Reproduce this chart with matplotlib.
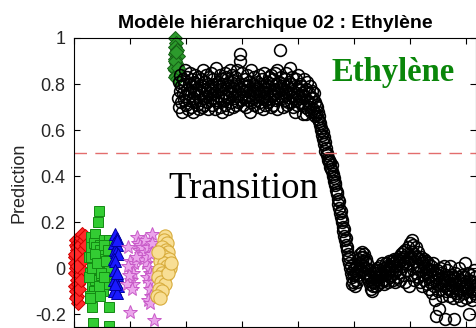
import numpy as np
import matplotlib
matplotlib.use("Agg")
import matplotlib.pyplot as plt

plt.rcParams['font.family'] = ['Liberation Sans', 'DejaVu Sans']

# class clusters (sample position, prediction)
red_x = [1, 3, 2, 5, 4, 7, 2, 6, 9, 3, 8, 5, 11, 4, 10, 6, 13, 2, 8, 12, 15, 7, 3, 10, 14,
         5, 9, 16, 1, 12, 18, 20, 17, 21]
red_y = [0.05, 0.10, -0.02, 0.08, 0.12, 0.03, -0.08, -0.05, 0.07, 0.00, 0.11, -0.12, 0.04,
         -0.10, -0.03, 0.09, 0.13, 0.02, -0.15, 0.06, 0.15, -0.07, -0.13, 0.10, -0.01, 0.01,
         -0.09, 0.08, 0.06, -0.05, 0.12, 0.14, 0.04, 0.10]

green_x = [44, 43, 30, 38, 32, 62, 34, 62,
           26, 28, 30, 32, 34, 36, 38, 40, 42, 44, 46, 48, 50, 52, 54, 56, 58, 60, 62,
           64, 27, 31, 35, 39, 43, 47, 51, 55, 59, 63, 29, 37, 45, 53, 61, 33, 41, 49,
           57, 28, 46, 54]
green_y = [0.25, 0.20, 0.135, 0.15, -0.17, -0.17, -0.24, -0.25,
           0.05, -0.02, 0.09, -0.08, 0.03, 0.11, -0.05, 0.07, -0.11, 0.01, 0.10, -0.03,
           0.06, -0.09, 0.12, 0.02, -0.06, 0.08, -0.01, 0.11, -0.04, 0.05, -0.10, 0.09,
           0.00, 0.08, -0.10, 0.04, -0.07, 0.12, -0.12, 0.06, -0.08, 0.10, 0.08, 0.00,
           0.02, -0.02, 0.03, -0.13, -0.12, -0.04]

blue_x = [74, 77, 72, 76, 73, 75, 78, 72, 74, 77, 73, 76, 72, 75, 78, 74, 72, 77, 73, 76]
blue_y = [0.15, 0.13, 0.11, 0.10, 0.08, 0.07, 0.06, 0.04, 0.03, 0.12, -0.01, -0.03, -0.05,
          -0.06, -0.08, -0.09, -0.10, -0.11, -0.07, -0.02]

mag_x = [97, 139, 112, 114, 116, 118, 120, 122, 124, 126, 128, 130, 132, 134, 136, 130, 134,
         136, 138, 132, 136, 140, 100, 103, 106, 102, 108, 105, 94, 98, 110, 100, 143, 126,
         138, 140, 96, 104]
mag_y = [0.09, 0.15, 0.135, 0.11, 0.08, 0.10, 0.06, 0.09, 0.04, 0.07, 0.02, 0.05, 0.09, 0.00,
         -0.02, -0.04, -0.06, -0.09, -0.12, -0.14, -0.15, -0.03, 0.03, 0.00, -0.02, -0.05,
         0.02, -0.07, -0.07, -0.03, 0.05, -0.19, -0.225, 0.12, 0.06, 0.11, 0.01, -0.09]

yel_x = [162, 160, 166, 158, 164, 168, 156, 162, 170, 154, 160, 166, 172, 152, 158, 164, 150,
         156, 162, 152, 158, 148, 154, 168, 150, 174]
yel_y = [0.14, 0.12, 0.11, 0.09, 0.08, 0.07, 0.06, 0.05, 0.04, 0.03, 0.02, 0.01, 0.00, -0.01,
         -0.02, -0.03, -0.04, -0.06, -0.07, -0.09, -0.10, -0.12, -0.13, -0.02, 0.07, 0.02]

eth_x = [181, 183, 180, 184, 181, 185, 180, 183, 184, 181, 179, 185, 183, 180, 184, 181, 186, 183]
eth_y = [1.00, 0.98, 0.96, 0.95, 0.93, 0.92, 0.91, 0.89, 0.88, 0.86, 0.87, 0.85, 0.84, 0.83,
         0.82, 0.90, 0.87, 0.94]

# hierarchical model output, one value per sample
first_sample = 186
plateau_y = [
    0.74, 0.81, 0.70, 0.77, 0.84, 0.72, 0.79, 0.68, 0.76, 0.82, 0.73, 0.80, 0.75, 0.86, 0.71, 0.78, 0.83, 0.69, 0.76, 0.80,
    0.73, 0.85, 0.77, 0.70, 0.79, 0.82, 0.74, 0.68, 0.81, 0.76, 0.72, 0.84, 0.78, 0.71, 0.80, 0.75, 0.83, 0.69, 0.77, 0.73,
    0.82, 0.76, 0.70, 0.79, 0.86, 0.74, 0.78, 0.71, 0.81, 0.75, 0.84, 0.72, 0.77, 0.80, 0.69, 0.83, 0.76, 0.73, 0.79, 0.85,
    0.71, 0.78, 0.74, 0.82, 0.76, 0.69, 0.80, 0.73, 0.87, 0.77, 0.72, 0.81, 0.75, 0.79, 0.70, 0.84, 0.78, 0.74, 0.82, 0.68,
    0.76, 0.80, 0.73, 0.85, 0.71, 0.78, 0.83, 0.75, 0.82, 0.69, 0.79, 0.74, 0.86, 0.77, 0.72, 0.81, 0.76, 0.84, 0.70, 0.78,
    0.74, 0.83, 0.77, 0.71, 0.80, 0.75, 0.86, 0.72, 0.79, 0.76, 0.93, 0.90, 0.78, 0.73, 0.85, 0.77, 0.71, 0.80, 0.74, 0.79,
    0.82, 0.70, 0.77, 0.84, 0.73, 0.79, 0.75, 0.81, 0.68, 0.78, 0.86, 0.72, 0.76, 0.80, 0.74, 0.83, 0.71, 0.77, 0.79, 0.75,
    0.81, 0.73, 0.78, 0.70, 0.84, 0.76, 0.72, 0.80, 0.77, 0.74, 0.82, 0.69, 0.79, 0.75, 0.85, 0.71, 0.78, 0.73, 0.81, 0.76,
    0.72, 0.79, 0.83, 0.74, 0.77, 0.70, 0.84, 0.80, 0.75, 0.82, 0.71, 0.78, 0.76, 0.85, 0.73, 0.80, 0.86, 0.69, 0.77, 0.74,
    0.81, 0.76, 0.95, 0.79, 0.83, 0.74, 0.78, 0.70, 0.80, 0.75, 0.82, 0.73, 0.77, 0.85, 0.71, 0.79, 0.76, 0.72, 0.81, 0.87,
    0.78, 0.72, 0.80, 0.75, 0.83, 0.70, 0.77, 0.74, 0.68, 0.79, 0.82, 0.73, 0.76, 0.71, 0.84, 0.75, 0.78, 0.72, 0.80, 0.74,
    0.79, 0.71, 0.76, 0.67, 0.82, 0.75, 0.70, 0.77, 0.67, 0.78, 0.73, 0.81, 0.69, 0.76, 0.72, 0.79, 0.70, 0.74, 0.68, 0.77,
]
trans_y = [
    0.74, 0.69, 0.76, 0.68, 0.72, 0.66, 0.71, 0.67, 0.70, 0.65,
    0.68, 0.64, 0.66, 0.62, 0.63, 0.60, 0.61, 0.58, 0.59, 0.56,
    0.57, 0.54, 0.55, 0.51, 0.52, 0.49, 0.50, 0.47, 0.48, 0.46,
    0.47, 0.44, 0.46, 0.43, 0.45, 0.42, 0.40, 0.41, 0.38, 0.39,
    0.36, 0.37, 0.34, 0.32, 0.33, 0.30, 0.28, 0.29, 0.26, 0.24,
    0.25, 0.22, 0.20, 0.21, 0.18, 0.16, 0.17, 0.14, 0.12, 0.13,
    0.10, 0.08, 0.09, 0.06, 0.04, 0.05, 0.02, 0.00, 0.01, -0.02,
]
tail_y = [
    -0.04, -0.07, -0.01, -0.06, -0.03, -0.08, 0.00, -0.05, -0.02, -0.06,
    0.01, -0.03, 0.04, 0.00, 0.06, 0.02, 0.05, -0.01, 0.07, 0.03,
    0.05, 0.01, 0.06, -0.02, 0.03, 0.00, 0.04, -0.04, 0.02, -0.03,
    -0.05, -0.01, -0.07, -0.03, -0.09, -0.04, -0.10, -0.06, -0.08, -0.02,
    -0.06, -0.01, -0.04, -0.08, -0.02, -0.05, 0.00, -0.07, -0.03, -0.01,
    0.01, -0.04, -0.02, -0.06, 0.02, -0.03, -0.05, 0.00, -0.07, -0.01,
    -0.03, 0.02, -0.05, 0.01, -0.02, -0.06, 0.03, -0.01, -0.04, 0.01,
    0.00, -0.03, 0.03, -0.05, 0.02, -0.02, 0.04, -0.06, 0.01, 0.03,
    -0.01, 0.04, -0.04, 0.02, 0.05, -0.02, 0.03, -0.05, 0.06, 0.01,
    0.04, -0.03, 0.07, 0.02, 0.05, -0.06, 0.08, 0.03, -0.01, 0.06,
    0.09, 0.02, -0.08, 0.05, 0.11, 0.04, -0.03, 0.12, 0.07, 0.01,
    0.10, -0.05, 0.06, 0.03, 0.09, -0.02, 0.05, 0.00, 0.07, -0.04,
    0.04, 0.01, -0.06, 0.05, -0.01, 0.03, -0.08, 0.02, -0.03, 0.04,
    -0.05, 0.01, -0.02, 0.03, -0.07, 0.00, -0.04, 0.02, -0.09, -0.01,
    -0.06, 0.01, -0.03, -0.11, -0.01, -0.05, 0.02, -0.08, -0.02, -0.14,
    -0.04, -0.21, -0.07, -0.01, -0.10, -0.03, -0.18, -0.06, 0.00, -0.09,
    -0.02, -0.07, -0.12, -0.04, 0.01, -0.08, -0.05, -0.22, -0.03, -0.10,
    -0.06, -0.01, -0.09, -0.04, -0.12, -0.07, 0.01, -0.05, -0.10, -0.03,
    -0.08, -0.13, -0.04, -0.22, -0.07, -0.02, -0.11, -0.06, -0.09, -0.04,
    -0.12, -0.06, 0.00, -0.10, -0.05, -0.08, -0.14, -0.03, -0.09, -0.07,
    -0.11, -0.04, -0.08, 0.02, -0.13, -0.06, -0.10, -0.02, -0.09, -0.20,
    -0.05, -0.12, -0.07, -0.03, -0.10, -0.14, -0.06, -0.09, -0.01, -0.11,
    -0.08, -0.04, -0.12, -0.07, -0.10,
]

pred_y = plateau_y + trans_y + tail_y
pred_x = first_sample + np.arange(len(pred_y))

fig = plt.figure(figsize=(4.77, 3.28), dpi=100)
ax = fig.add_axes([74 / 477, 1 / 328, 402 / 477, 289 / 328])

ax.plot(red_x, red_y, 'D', ms=7, mfc='#ff2a2a', mec='#d00000', mew=0.7, clip_on=False)
ax.plot(green_x, green_y, 's', ms=7, mfc='#33cc33', mec='#138a13', mew=0.7)
ax.plot(blue_x, blue_y, '^', ms=9, mfc='#1a1aff', mec='#0000a0', mew=0.7)
ax.plot(mag_x, mag_y, '*', ms=10, mfc='#eba4eb', mec='#c85ac8', mew=0.7)
ax.plot(yel_x, yel_y, 'o', ms=9.5, mfc='#f8de94', mec='#d8ac3c', mew=0.8)
ax.plot(eth_x, eth_y, 'D', ms=7.5, mfc='#2c9a2c', mec='#155f15', mew=0.7, clip_on=False)
ax.plot(pred_x, pred_y, 'o', ms=8.5, mfc='none', mec='black', mew=1.15)

ax.axhline(0.5, color='#e36d6d', lw=1, dashes=(9, 6))

ax.text(0.794, 0.882, 'Ethylène', transform=ax.transAxes, color='#0a860a', fontsize=23.5,
        fontweight='bold', family='Liberation Serif', ha='center', va='center')
ax.text(0.42, 0.48, 'Transition', transform=ax.transAxes, color='black', fontsize=26.5,
        family='Liberation Serif', ha='center', va='center')

ax.set_xlim(0, 718)
ax.set_ylim(-0.2565, 1.0)
ax.set_xticks(np.arange(0, 701, 100))
ax.set_xticklabels([])
ax.set_yticks([-0.2, 0, 0.2, 0.4, 0.6, 0.8, 1])
ax.set_yticklabels(['-0.2', '0', '0.2', '0.4', '0.6', '0.8', '1'])
ax.tick_params(direction='in', length=4, width=0.8, top=True, right=True, pad=6,
               labelsize=13, colors='black', labelcolor='#262626')
for s in ax.spines.values():
    s.set_linewidth(0.8)
ax.set_ylabel('Prediction', fontsize=13, color='#262626', labelpad=5)
ax.set_title('Modèle hiérarchique 02 : Ethylène', fontsize=14, fontweight='bold', pad=7)

fig.savefig('out.png', dpi=100)
